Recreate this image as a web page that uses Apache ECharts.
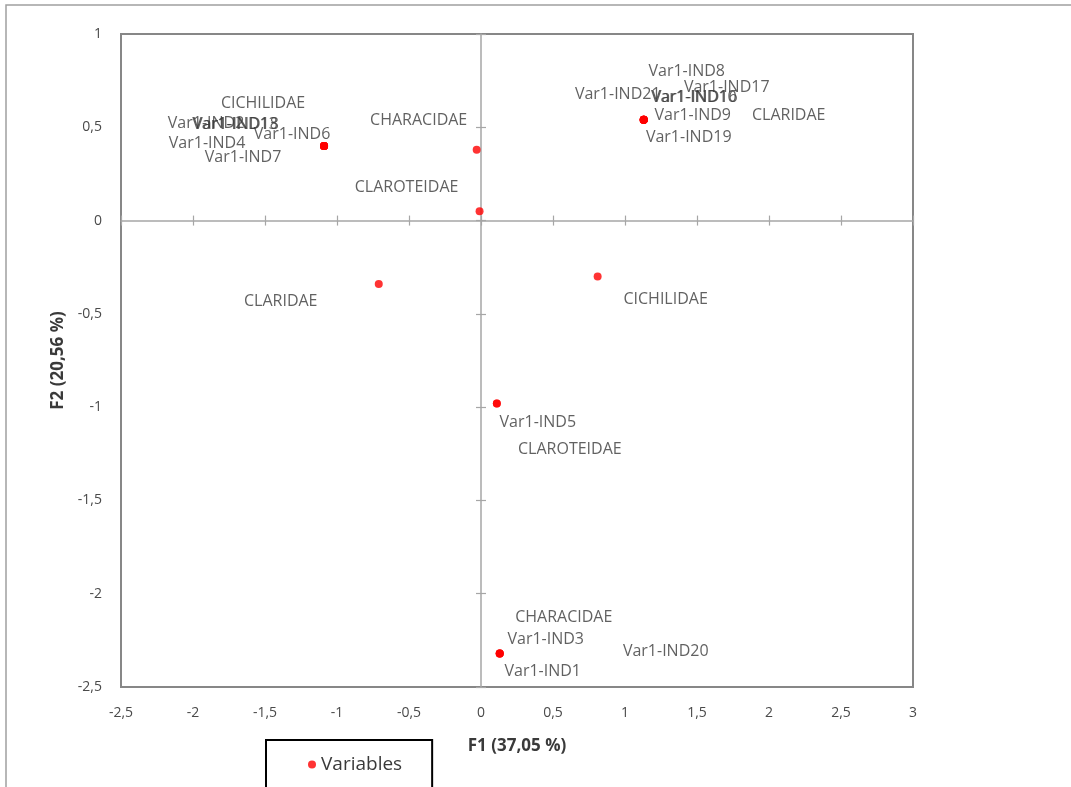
<!DOCTYPE html>
<html>
<head>
<meta charset="utf-8">
<title>F1 x F2</title>
<script src="https://cdn.jsdelivr.net/npm/echarts@6/dist/echarts.min.js"></script>
<style>
  html, body { margin: 0; padding: 0; background: #ffffff; }
  #chart { width: 1071px; height: 787px; }
</style>
</head>
<body>
<div id="chart"></div>
<script>
// Variable labels and their coordinates on the first two factors
const names = [
  'CICHILIDAE', 'Var1-IND2', 'Var1-IND13', 'Var1-IND18', 'Var1-IND6', 'Var1-IND4', 'Var1-IND7',
  'CHARACIDAE',
  'CLAROTEIDAE',
  'Var1-IND8', 'Var1-IND17', 'Var1-IND21', 'Var1-IND10', 'Var1-IND16', 'Var1-IND9', 'CLARIDAE', 'Var1-IND19',
  'CLARIDAE',
  'CICHILIDAE',
  'Var1-IND5', 'CLAROTEIDAE',
  'CHARACIDAE', 'Var1-IND3', 'Var1-IND20', 'Var1-IND1'
];
const f1 = [
  -1.09, -1.09, -1.09, -1.09, -1.09, -1.09, -1.09,
  -0.03,
  -0.01,
  1.13, 1.13, 1.13, 1.13, 1.13, 1.13, 1.13, 1.13,
  -0.71,
  0.81,
  0.11, 0.11,
  0.13, 0.13, 0.13, 0.13
];
const f2 = [
  0.40, 0.40, 0.40, 0.40, 0.40, 0.40, 0.40,
  0.38,
  0.05,
  0.54, 0.54, 0.54, 0.54, 0.54, 0.54, 0.54, 0.54,
  -0.34,
  -0.30,
  -0.98, -0.98,
  -2.32, -2.32, -2.32, -2.32
];
const xTicks = { min: -2.5, max: 3, step: 0.5 };
const yTicks = { min: -2.5, max: 1, step: 0.5 };
const xTitle = 'F1 (37,05 %)';
const yTitle = 'F2 (20,56 %)';
const seriesName = 'Variables';

// Label placement around each point (pixel offsets of the label centre)
const labelShift = [
  [-61, -43], [-118, -23], [-89, -22], [-88, -22], [-32, -12], [-117, -3], [-81, 11],
  [-58, -29],
  [-73, -24],
  [43, -48], [83, -32], [-26, -25], [50, -22], [51, -22], [49, -4], [145, -4], [45, 18],
  [-98, 17],
  [68, 23],
  [41, 19], [73, 46],
  [64, -36], [46, -14], [166, -2], [43, 18]
];

const TEXT = '#3a3a3a';
const TICK_TEXT = '#4a4a4a';
const AXIS_GREY = '#a6a6a6';
const FONT = 'Open Sans';
const comma = v => String(v).replace('.', ',');

const points = names.map((n, i) => ({
  name: n,
  value: [f1[i], f2[i]],
  label: { offset: labelShift[i] }
}));

function valueAxis(range, extra) {
  return Object.assign({
    type: 'value',
    min: range.min,
    max: range.max,
    interval: range.step,
    splitLine: { show: false },
    axisLabel: { show: false },
    axisTick: { show: false },
    axisLine: { show: false }
  }, extra);
}

const chart = echarts.init(document.getElementById('chart'), null, { renderer: 'canvas' });
chart.setOption({
  backgroundColor: '#ffffff',
  animation: false,
  textStyle: { fontFamily: FONT },
  graphic: [{
    type: 'rect',
    z: -10,
    shape: { x: 6, y: 5, width: 1300, height: 1000 },
    style: { fill: 'none', stroke: '#a0a0a0', lineWidth: 1.5 }
  }],
  grid: {
    left: 121, right: 158, top: 34, bottom: 100,
    show: true,
    borderColor: '#878787',
    borderWidth: 2,
    backgroundColor: 'transparent'
  },
  legend: {
    left: 266, top: 740,
    padding: [15, 30, 40, 42],
    borderColor: '#000000',
    borderWidth: 2,
    itemWidth: 8, itemHeight: 8,
    itemGap: 10,
    icon: 'circle',
    textStyle: { fontSize: 19, color: TEXT, fontFamily: FONT },
    data: [seriesName]
  },
  xAxis: [
    valueAxis(xTicks, {
      position: 'bottom',
      axisLine: { show: false, onZero: false },
      axisLabel: { show: true, margin: 19, fontSize: 14, color: TICK_TEXT, formatter: comma, showMinLabel: true, showMaxLabel: true },
      name: xTitle,
      nameLocation: 'middle',
      nameGap: 51,
      nameTextStyle: { fontSize: 17, fontWeight: 'bold', color: TEXT, fontFamily: FONT }
    }),
    valueAxis(xTicks, {
      position: 'bottom',
      axisLine: { show: true, onZero: true, onZeroAxisIndex: 0, lineStyle: { color: AXIS_GREY, width: 1.5 } },
      axisTick: { show: true, inside: false, length: 5, lineStyle: { color: AXIS_GREY, width: 1.2 } }
    }),
    valueAxis(xTicks, {
      position: 'bottom',
      axisLine: { show: false, onZero: true, onZeroAxisIndex: 0 },
      axisTick: { show: true, inside: true, length: 5, lineStyle: { color: AXIS_GREY, width: 1.2 } }
    })
  ],
  yAxis: [
    valueAxis(yTicks, {
      position: 'left',
      axisLine: { show: false, onZero: false },
      axisLabel: { show: true, margin: 19, fontSize: 14, color: TICK_TEXT, formatter: comma, showMinLabel: true, showMaxLabel: true },
      name: yTitle,
      nameLocation: 'middle',
      nameGap: 52,
      nameTextStyle: { fontSize: 17, fontWeight: 'bold', color: TEXT, fontFamily: FONT }
    }),
    valueAxis(yTicks, {
      position: 'left',
      axisLine: { show: true, onZero: true, onZeroAxisIndex: 0, lineStyle: { color: AXIS_GREY, width: 1.5 } },
      axisTick: { show: true, inside: false, length: 5, lineStyle: { color: AXIS_GREY, width: 1.2 } }
    }),
    valueAxis(yTicks, {
      position: 'left',
      axisLine: { show: false, onZero: true, onZeroAxisIndex: 0 },
      axisTick: { show: true, inside: true, length: 5, lineStyle: { color: AXIS_GREY, width: 1.2 } }
    })
  ],
  series: [{
    name: seriesName,
    type: 'scatter',
    xAxisIndex: 0,
    yAxisIndex: 0,
    symbol: 'circle',
    symbolSize: 8,
    itemStyle: { color: '#ff0000' },
    emphasis: { disabled: true },
    label: {
      show: true,
      position: 'inside',
      formatter: p => p.name,
      align: 'center',
      verticalAlign: 'middle',
      fontSize: 16,
      color: TEXT,
      fontFamily: FONT
    },
    data: points
  }]
});
</script>
</body>
</html>
